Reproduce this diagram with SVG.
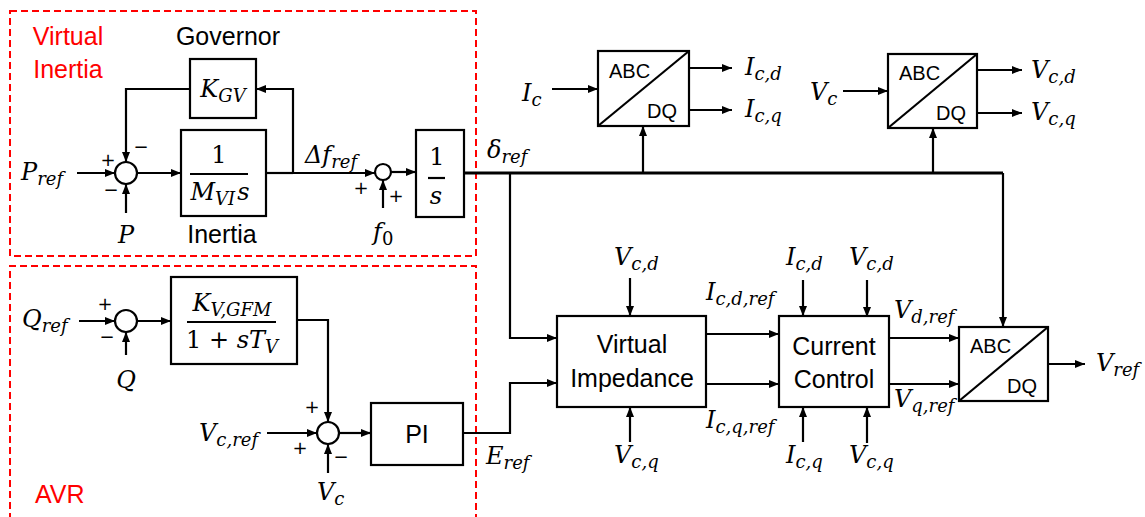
<svg xmlns="http://www.w3.org/2000/svg" width="1145" height="517" viewBox="0 0 1145 517">
<defs>
<marker id="ah" viewBox="0 0 10 8" refX="10" refY="4" markerWidth="10" markerHeight="8" orient="auto" markerUnits="userSpaceOnUse"><path d="M0,0 L10,4 L0,8 z" fill="#000"/></marker>
</defs>
<style>
.bx{fill:#fff;stroke:#000;stroke-width:2.2}
.ln{fill:none;stroke:#000;stroke-width:2.2}
.ar{fill:none;stroke:#000;stroke-width:2.2;marker-end:url(#ah)}
.thick{fill:none;stroke:#000;stroke-width:3}
.red{fill:none;stroke:#f00;stroke-width:2;stroke-dasharray:7,4}
.sa{font-family:"Liberation Sans",Arial,sans-serif;font-size:25px;fill:#000}
.sm{font-family:"Liberation Sans",Arial,sans-serif;font-size:20px;fill:#000}
.rt{font-family:"Liberation Sans",Arial,sans-serif;font-size:25px;fill:#f00}
.m{font-family:"DejaVu Serif",serif;font-style:italic;font-size:24px;fill:#000}
.u{font-family:"DejaVu Serif",serif;font-style:normal;font-size:24px;fill:#000}
.s{font-size:18px}
.sg{font-family:"DejaVu Sans",sans-serif;font-size:18px;fill:#000}
</style>

<g id="group-virtual-inertia">
<rect class="red" x="10" y="11" width="466" height="245"/>
<text class="rt" x="68" y="45" text-anchor="middle">Virtual</text>
<text class="rt" x="68" y="78" text-anchor="middle">Inertia</text>
</g>
<g id="group-avr">
<path class="red" d="M10,520 V266 H476 V520"/>
<text class="rt" x="35" y="503">AVR</text>
</g>

<g id="connectors">
<path class="ar" d="M77,173 H115"/>
<path class="ar" d="M126,213 V184"/>
<path class="ar" d="M137,173 H181"/>
<path class="ln" d="M266,173 H293"/>
<path class="ar" d="M293,173 V89 H256"/>
<path class="ar" d="M190,89 H126 V162"/>
<path class="ar" d="M293,173 H375"/>
<path class="ar" d="M383,208 V180"/>
<path class="ar" d="M391,172 H416"/>
<path class="thick" d="M464,173 H1003"/>
<path class="ar" d="M1003,173 V327"/>
<path class="ar" d="M510,173 V338 H557"/>
<path class="ar" d="M643,173 V126"/>
<path class="ar" d="M933,173 V128"/>
<path class="ar" d="M552,89 H598"/>
<path class="ar" d="M689,68 H732"/>
<path class="ar" d="M689,110 H732"/>
<path class="ar" d="M843,91 H888"/>
<path class="ar" d="M977,70 H1022"/>
<path class="ar" d="M977,113 H1022"/>
<path class="ar" d="M79,321 H115"/>
<path class="ar" d="M126,355 V332"/>
<path class="ar" d="M137,321 H171"/>
<path class="ar" d="M297,320 H328 V422"/>
<path class="ar" d="M267,433 H317"/>
<path class="ar" d="M328,473 V444"/>
<path class="ar" d="M339,433 H371"/>
<path class="ar" d="M463,433 H510 V383 H557"/>
<path class="ar" d="M630,278 V316"/>
<path class="ar" d="M630,442 V407"/>
<path class="ar" d="M706,334 H779"/>
<path class="ar" d="M706,384 H779"/>
<path class="ar" d="M803,280 V316"/>
<path class="ar" d="M803,442 V407"/>
<path class="ar" d="M867,280 V317"/>
<path class="ar" d="M867,443 V407"/>
<path class="ar" d="M889,338 H959"/>
<path class="ar" d="M889,384 H959"/>
<path class="ar" d="M1048,364 H1085"/>
</g>

<g id="sum1">
<circle class="bx" cx="126" cy="173" r="11"/>
<text class="sg" x="108" y="166" text-anchor="middle">+</text>
<text class="sg" x="111" y="196" text-anchor="middle">−</text>
<text class="sg" x="141" y="153" text-anchor="middle">−</text>
</g>
<g id="label-pref"><text class="m" x="21" y="180">P<tspan class="s" dy="5">ref</tspan></text></g>
<g id="label-p"><text class="m" x="126" y="243" text-anchor="middle">P</text></g>

<g id="kgv">
<rect class="bx" x="190" y="59" width="66" height="59"/>
<text class="m" x="223" y="97" text-anchor="middle">K<tspan class="s" dy="5">GV</tspan></text>
<text class="sa" x="228" y="45" text-anchor="middle">Governor</text>
</g>

<g id="inertia">
<rect class="bx" x="181" y="130" width="85" height="86"/>
<text class="u" x="219" y="163" text-anchor="middle">1</text>
<line class="ln" x1="190" y1="174" x2="248" y2="174"/>
<text class="m" x="220" y="200" text-anchor="middle">M<tspan class="s" dy="5">VI</tspan><tspan dx="2" dy="-5">s</tspan></text>
<text class="sa" x="222" y="243" text-anchor="middle">Inertia</text>
</g>

<g id="label-dfref"><text class="m" x="305" y="163">Δf<tspan class="s" dy="5">ref</tspan></text></g>

<g id="sum2">
<circle class="bx" cx="383" cy="172" r="8"/>
<text class="sg" x="361" y="194" text-anchor="middle">+</text>
<text class="sg" x="396" y="202" text-anchor="middle">+</text>
<text class="m" x="373" y="240">f<tspan class="u s" dy="5">0</tspan></text>
</g>

<g id="integrator">
<rect class="bx" x="416" y="130" width="48" height="87"/>
<text class="u" x="437" y="165" text-anchor="middle">1</text>
<line class="ln" x1="428" y1="178" x2="445" y2="178"/>
<text class="m" x="436" y="204" text-anchor="middle">s</text>
</g>

<g id="label-delta"><text class="m" x="487" y="158">δ<tspan class="s" dy="5">ref</tspan></text></g>

<g id="abcdq1">
<rect class="bx" x="598" y="51" width="91" height="75"/>
<line class="ln" x1="598" y1="126" x2="689" y2="51"/>
<text class="sm" x="609" y="78">ABC</text>
<text class="sm" x="647" y="118">DQ</text>
<text class="m" x="522" y="101">I<tspan class="s" dy="5">c</tspan></text>
<text class="m" x="745" y="75">I<tspan class="s" dy="5">c,d</tspan></text>
<text class="m" x="745" y="117">I<tspan class="s" dy="5">c,q</tspan></text>
</g>

<g id="abcdq2">
<rect class="bx" x="888" y="54" width="89" height="74"/>
<line class="ln" x1="888" y1="128" x2="977" y2="54"/>
<text class="sm" x="899" y="80">ABC</text>
<text class="sm" x="936" y="120">DQ</text>
<text class="m" x="810" y="100">V<tspan class="s" dy="5">c</tspan></text>
<text class="m" x="1031" y="78">V<tspan class="s" dy="5">c,d</tspan></text>
<text class="m" x="1031" y="120">V<tspan class="s" dy="5">c,q</tspan></text>
</g>

<g id="sum3">
<circle class="bx" cx="126" cy="321" r="11"/>
<text class="sg" x="105" y="310" text-anchor="middle">+</text>
<text class="sg" x="107" y="343" text-anchor="middle">−</text>
<text class="m" x="22" y="327">Q<tspan class="s" dy="5">ref</tspan></text>
<text class="m" x="126" y="388" text-anchor="middle">Q</text>
</g>

<g id="kv">
<rect class="bx" x="171" y="277" width="126" height="87"/>
<text class="m" x="232" y="311" text-anchor="middle">K<tspan class="s" dy="5">V,GFM</tspan></text>
<line class="ln" x1="187" y1="322" x2="276" y2="322"/>
<text class="u" x="232" y="348" text-anchor="middle">1 + <tspan class="m">sT</tspan><tspan class="m s" dy="5">V</tspan></text>
</g>

<g id="sum4">
<circle class="bx" cx="328" cy="433" r="11"/>
<text class="sg" x="312" y="413" text-anchor="middle">+</text>
<text class="sg" x="300" y="454" text-anchor="middle">+</text>
<text class="sg" x="341" y="463" text-anchor="middle">−</text>
<text class="m" x="199" y="441">V<tspan class="s" dy="5">c,ref</tspan></text>
<text class="m" x="317" y="500">V<tspan class="s" dy="5">c</tspan></text>
</g>

<g id="pi">
<rect class="bx" x="371" y="403" width="92" height="62"/>
<text class="sa" x="417" y="443" text-anchor="middle">PI</text>
</g>

<g id="label-eref"><text class="m" x="486" y="464">E<tspan class="s" dy="5">ref</tspan></text></g>

<g id="virtual-impedance">
<rect class="bx" x="557" y="316" width="149" height="91"/>
<text class="sa" x="632" y="353" text-anchor="middle">Virtual</text>
<text class="sa" x="632" y="387" text-anchor="middle">Impedance</text>
<text class="m" x="614" y="265">V<tspan class="s" dy="5">c,d</tspan></text>
<text class="m" x="614" y="463">V<tspan class="s" dy="5">c,q</tspan></text>
<text class="m" x="706" y="300">I<tspan class="s" dy="5">c,d,ref</tspan></text>
<text class="m" x="706" y="428">I<tspan class="s" dy="5">c,q,ref</tspan></text>
</g>

<g id="current-control">
<rect class="bx" x="779" y="316" width="110" height="91"/>
<text class="sa" x="834" y="355" text-anchor="middle">Current</text>
<text class="sa" x="834" y="388" text-anchor="middle">Control</text>
<text class="m" x="786" y="265">I<tspan class="s" dy="5">c,d</tspan></text>
<text class="m" x="786" y="463">I<tspan class="s" dy="5">c,q</tspan></text>
<text class="m" x="849" y="265">V<tspan class="s" dy="5">c,d</tspan></text>
<text class="m" x="849" y="463">V<tspan class="s" dy="5">c,q</tspan></text>
<text class="m" x="894" y="318">V<tspan class="s" dy="5">d,ref</tspan></text>
<text class="m" x="894" y="407">V<tspan class="s" dy="5">q,ref</tspan></text>
</g>

<g id="abcdq3">
<rect class="bx" x="959" y="327" width="89" height="74"/>
<line class="ln" x1="959" y1="401" x2="1048" y2="327"/>
<text class="sm" x="970" y="353">ABC</text>
<text class="sm" x="1007" y="393">DQ</text>
<text class="m" x="1096" y="371">V<tspan class="s" dy="5">ref</tspan></text>
</g>
</svg>
